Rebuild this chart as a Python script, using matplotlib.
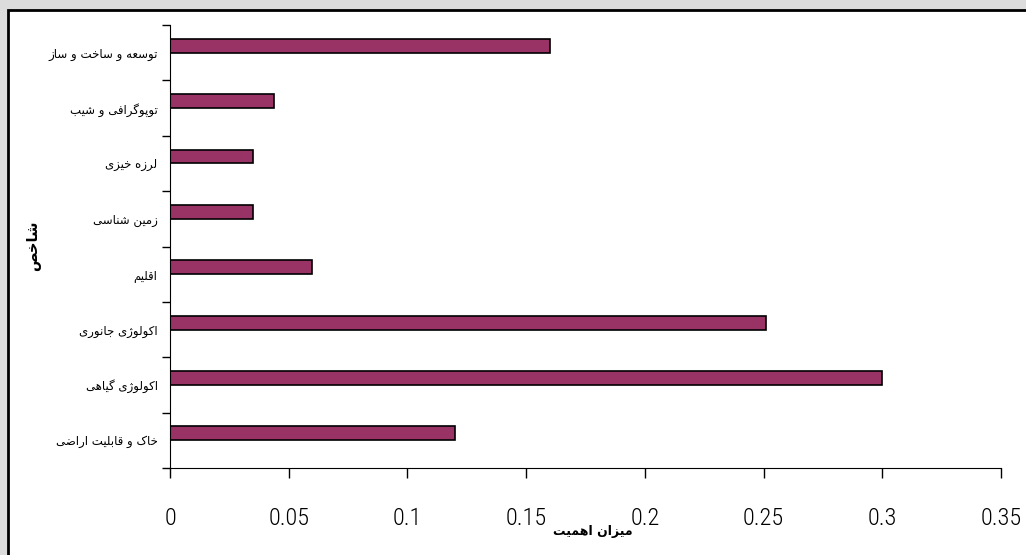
import numpy as np
import matplotlib.pyplot as plt
from matplotlib.patches import Rectangle

# ------ Data (bottom to top, as in the source chart) ------
categories = ["خاک و قابلیت اراضی", "اکولوژی گیاهی", "اکولوژی جانوری", "اقلیم",
              "زمین شناسی", "لرزه خیزی", "توپوگرافی و شیب", "توسعه و ساخت و ساز"]
values = [0.12, 0.30, 0.251, 0.06, 0.035, 0.035, 0.044, 0.16]
xticks = [0, 0.05, 0.1, 0.15, 0.2, 0.25, 0.3, 0.35]
xlabel = "میزان اهمیت"
ylabel = "شاخص"

# ------ simple Persian shaping (matplotlib has no bidi / joining) ------
DUAL = {'ب': 0xFE8F, 'پ': 0xFB56, 'ت': 0xFE95, 'ث': 0xFE99, 'ج': 0xFE9D, 'چ': 0xFB7A,
        'ح': 0xFEA1, 'خ': 0xFEA5, 'س': 0xFEB1, 'ش': 0xFEB5, 'ص': 0xFEB9, 'ض': 0xFEBD,
        'ط': 0xFEC1, 'ظ': 0xFEC5, 'ع': 0xFEC9, 'غ': 0xFECD, 'ف': 0xFED1, 'ق': 0xFED5,
        'ک': 0xFB8E, 'گ': 0xFB92, 'ل': 0xFEDD, 'م': 0xFEE1, 'ن': 0xFEE5, 'ه': 0xFEE9,
        'ی': 0xFBFC}
RIGHT = {'ا': 0xFE8D, 'د': 0xFEA9, 'ذ': 0xFEAB, 'ر': 0xFEAD, 'ز': 0xFEAF, 'ژ': 0xFB8A,
         'و': 0xFEED}


def shape(text):
    out = []
    for i, ch in enumerate(text):
        if ch not in DUAL and ch not in RIGHT:
            out.append(ch)
            continue
        prev = text[i-1] if i > 0 else ''
        nxt = text[i+1] if i + 1 < len(text) else ''
        join_prev = prev in DUAL
        join_next = ch in DUAL and (nxt in DUAL or nxt in RIGHT)
        base = DUAL.get(ch, RIGHT.get(ch))
        if join_prev and join_next:
            c = base + 3
        elif join_prev:
            c = base + 1
        elif join_next:
            c = base + 2
        else:
            c = base
        out.append(chr(c))
    return ''.join(reversed(out))


fig = plt.figure(figsize=(10.26, 5.55), dpi=100)
fig.patch.set_facecolor('#dcdcdc')
fig.patches.append(Rectangle((7.5/1026, -0.05), 1.1, 1 - 9.5/555 + 0.05,
                             transform=fig.transFigure, facecolor='white',
                             edgecolor='black', linewidth=2, zorder=-10))

ax = fig.add_axes([170/1026, 1 - 468/555, 831/1026, 443/555])
ax.set_facecolor('none')

pos = np.arange(len(categories)) + 0.5 + 0.125
ax.barh(pos, values, height=0.25, color='#993366', edgecolor='black', linewidth=1.2)

ax.set_xlim(0, 0.35)
ax.set_ylim(0, len(categories))
ax.spines['top'].set_visible(False)
ax.spines['right'].set_visible(False)

ax.set_xticks(xticks)
ax.set_xticklabels([f"{v:g}" for v in xticks], family=['Roboto Condensed', 'Roboto'],
                   fontsize=17.5, fontweight='light')
ax.tick_params(axis='x', direction='out', length=7, pad=21, width=1)

ax.set_yticks(np.arange(len(categories) + 1), minor=False)
ax.set_yticklabels([])
ax.tick_params(axis='y', which='major', direction='out', length=6, width=1)
ax.set_yticks(np.arange(len(categories)) + 0.5, minor=True)
ax.set_yticklabels([shape(c) for c in categories], minor=True, fontsize=8.5, family='DejaVu Sans')
ax.tick_params(axis='y', which='minor', length=0, pad=9)

fig.text(593/1026, 1 - 531/555, shape(xlabel), ha='center', va='center',
         fontsize=9, fontweight='bold', family='DejaVu Sans')
fig.text(33/1026, 1 - 246/555, shape(ylabel), ha='center', va='center', rotation=90,
         fontsize=10.5, fontweight='bold', family='DejaVu Sans')

fig.savefig('out.png', dpi=100)
